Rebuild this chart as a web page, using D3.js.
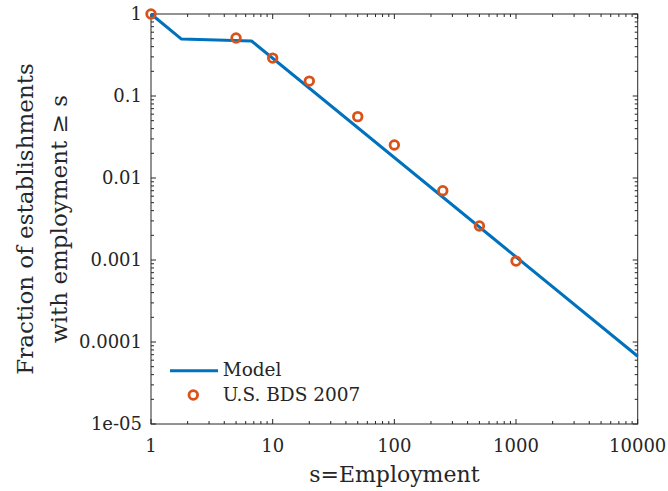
<!DOCTYPE html>
<html>
<head>
<meta charset="utf-8">
<script src="https://cdn.jsdelivr.net/npm/d3@7"></script>
<style>
  html, body { margin: 0; padding: 0; background: #fff; }
  svg { display: block; }
</style>
</head>
<body>
<svg id="chart" width="668" height="491"></svg>
<script>
// Model: fraction of establishments with employment >= s
const modelS = [1, 1.78, 6.7, 10000];
const modelF = [1, 0.495, 0.469, 0.000067];

// U.S. Business Dynamics Statistics, 2007
const bdsS = [1, 5, 10, 20, 50, 100, 250, 500, 1000];
const bdsF = [1, 0.51, 0.29, 0.152, 0.056, 0.0253, 0.0070, 0.0026, 0.00097];

const xTicks = [1, 10, 100, 1000, 10000];
const xTickLabels = ["1", "10", "100", "1000", "10000"];
const yTicks = [1, 0.1, 0.01, 0.001, 0.0001, 0.00001];
const yTickLabels = ["1", "0.1", "0.01", "0.001", "0.0001", "1e-05"];

const legendLabels = ["Model", "U.S. BDS 2007"];

const FONT = "DejaVu Serif";
const plot = { left: 151, right: 637.7, top: 14, bottom: 424 };

const svg = d3.select("#chart")
  .attr("font-family", FONT);

const x = d3.scaleLog().domain([1, 10000]).range([plot.left, plot.right]);
const y = d3.scaleLog().domain([0.00001, 1]).range([plot.bottom, plot.top]);

const axisColor = "#262626";
const blue = "#0072BD";
const orange = "#D95319";

// minor tick values for each decade
function minors(lo, hi) {
  const out = [];
  for (let e = Math.round(Math.log10(lo)); e < Math.round(Math.log10(hi)); e++) {
    for (let m = 2; m <= 9; m++) out.push(m * Math.pow(10, e));
  }
  return out;
}
const xMinor = minors(1, 10000);
const yMinor = minors(0.00001, 1);

const major = 5, minor = 3;
const g = svg.append("g").attr("stroke", axisColor).attr("stroke-width", 1).attr("fill", "none");

// box
g.append("rect")
  .attr("x", plot.left).attr("y", plot.top)
  .attr("width", plot.right - plot.left).attr("height", plot.bottom - plot.top);

// ticks on all four sides, pointing inward
function xTick(v, len) {
  const px = x(v);
  g.append("line").attr("x1", px).attr("x2", px).attr("y1", plot.bottom).attr("y2", plot.bottom - len);
  g.append("line").attr("x1", px).attr("x2", px).attr("y1", plot.top).attr("y2", plot.top + len);
}
function yTick(v, len) {
  const py = y(v);
  g.append("line").attr("y1", py).attr("y2", py).attr("x1", plot.left).attr("x2", plot.left + len);
  g.append("line").attr("y1", py).attr("y2", py).attr("x1", plot.right).attr("x2", plot.right - len);
}
xTicks.forEach(v => xTick(v, major));
xMinor.forEach(v => xTick(v, minor));
yTicks.forEach(v => yTick(v, major));
yMinor.forEach(v => yTick(v, minor));

function label(sel) {
  return sel.attr("font-family", FONT).attr("fill", axisColor);
}

// tick labels
label(svg.append("g").selectAll("text").data(xTicks).join("text"))
  .attr("x", d => x(d)).attr("y", 452)
  .attr("text-anchor", "middle").attr("font-size", 18)
  .text((d, i) => xTickLabels[i]);

label(svg.append("g").selectAll("text").data(yTicks).join("text"))
  .attr("x", 142).attr("y", d => y(d)).attr("dy", "0.36em")
  .attr("text-anchor", "end").attr("font-size", 18)
  .text((d, i) => yTickLabels[i]);

// axis titles
label(svg.append("text"))
  .attr("x", (plot.left + plot.right) / 2).attr("y", 482)
  .attr("text-anchor", "middle").attr("font-size", 22)
  .text("s=Employment");

const yc = (plot.top + plot.bottom) / 2;
label(svg.append("text"))
  .attr("transform", `translate(33,${yc}) rotate(-90)`)
  .attr("text-anchor", "middle").attr("font-size", 23)
  .text("Fraction of establishments");
label(svg.append("text"))
  .attr("transform", `translate(67,${yc}) rotate(-90)`)
  .attr("text-anchor", "middle").attr("font-size", 23)
  .text("with employment \u2265 s");

// model line
const line = d3.line().x(d => x(d[0])).y(d => y(d[1]));
svg.append("path")
  .datum(d3.zip(modelS, modelF))
  .attr("d", line)
  .attr("fill", "none").attr("stroke", blue).attr("stroke-width", 3)
  .attr("stroke-linejoin", "round");

// data markers
svg.append("g").selectAll("circle").data(d3.zip(bdsS, bdsF)).join("circle")
  .attr("cx", d => x(d[0])).attr("cy", d => y(d[1])).attr("r", 4.3)
  .attr("fill", "none").attr("stroke", orange).attr("stroke-width", 2.8);

// legend
const leg = svg.append("g");
leg.append("line").attr("x1", 170).attr("x2", 218).attr("y1", 370.7).attr("y2", 370.7)
  .attr("stroke", blue).attr("stroke-width", 3);
leg.append("circle").attr("cx", 193.3).attr("cy", 395).attr("r", 4.3)
  .attr("fill", "none").attr("stroke", orange).attr("stroke-width", 2.8);
label(leg.selectAll("text").data(legendLabels).join("text"))
  .attr("x", 222.7).attr("y", (d, i) => 376 + i * 25)
  .attr("font-size", 18.5)
  .text(d => d);
</script>
</body>
</html>
